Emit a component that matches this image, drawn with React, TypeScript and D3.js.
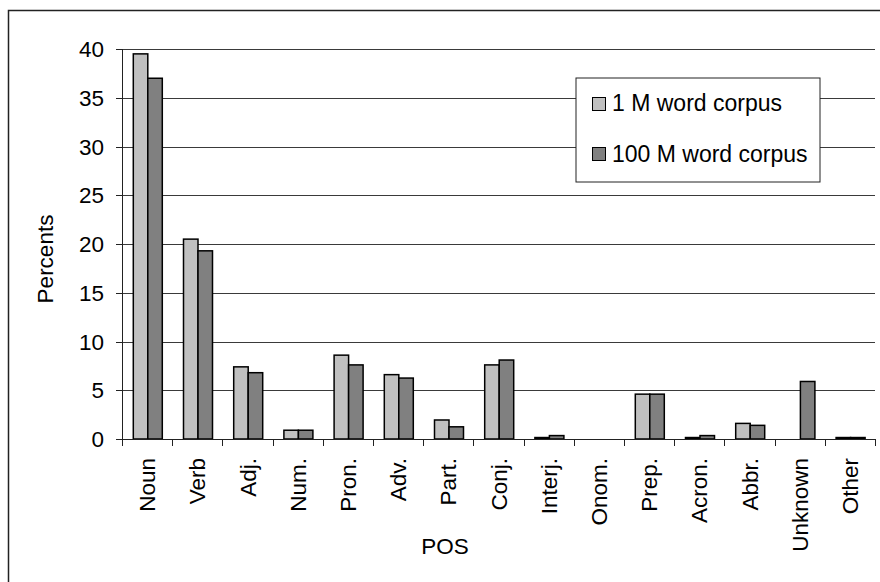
import React from "react";
import * as d3 from "d3";

const categories = ["Noun", "Verb", "Adj.", "Num.", "Pron.", "Adv.", "Part.", "Conj.", "Interj.", "Onom.", "Prep.", "Acron.", "Abbr.", "Unknown", "Other"];
const series1M = [39.5, 20.5, 7.4, 0.9, 8.6, 6.6, 1.95, 7.6, 0.15, 0, 4.6, 0.15, 1.6, 0, 0.15];
const series100M = [37.0, 19.3, 6.8, 0.9, 7.6, 6.25, 1.25, 8.1, 0.35, 0, 4.6, 0.35, 1.4, 5.9, 0.15];
const seriesNames = ["1 M word corpus", "100 M word corpus"];
const seriesColors = ["#C0C0C0", "#808080"];
const yTicks = [0, 5, 10, 15, 20, 25, 30, 35, 40];

const FONT = "'Liberation Sans', Arial, sans-serif";

export default function App() {
  const W = 880, H = 582;
  const left = 122, right = 875, top = 49, bottom = 439;
  const x = d3.scaleBand<string>().domain(categories).range([left, right]).paddingInner(0).paddingOuter(0);
  const y = d3.scaleLinear().domain([0, 40]).range([bottom, top]);
  const bw = x.bandwidth();
  const barW = 14.5;
  const data = [series1M, series100M];
  const fs = 22.5;
  const fsLeg = 23;

  return (
    <svg width={W} height={H} style={{ position: "absolute", left: 0, top: 0, background: "#fff" }} fontFamily={FONT}>
      <rect x={0} y={0} width={W} height={H} fill="#fff" />
      {/* chart border */}
      <rect x={8.5} y={10.5} width={W + 20} height={H + 20} fill="none" stroke="#222" strokeWidth={1.5} />
      {/* gridlines */}
      {yTicks.map((t) => (
        <line key={"g" + t} x1={left} x2={right} y1={Math.round(y(t)) + 0.5} y2={Math.round(y(t)) + 0.5} stroke="#3a3a3a" strokeWidth={1} />
      ))}
      {/* bars */}
      {categories.map((c, i) => {
        const cx = (x(c) as number) + bw / 2 + 0.7;
        return data.map((s, k) => {
          const v = s[i];
          if (v <= 0) return null;
          const x0 = cx - barW + k * barW;
          return (
            <rect key={c + k} x={x0} y={y(v)} width={barW} height={y(0) - y(v)} fill={seriesColors[k]} stroke="#000" strokeWidth={1.5} />
          );
        });
      })}
      {/* axes */}
      <line x1={left + 0.5} x2={left + 0.5} y1={top} y2={bottom} stroke="#222" strokeWidth={1} />
      <line x1={left} x2={right} y1={bottom + 0.5} y2={bottom + 0.5} stroke="#222" strokeWidth={1.2} />
      {yTicks.map((t) => (
        <g key={"yt" + t}>
          <line x1={left - 6} x2={left} y1={Math.round(y(t)) + 0.5} y2={Math.round(y(t)) + 0.5} stroke="#222" />
          <text x={104} y={y(t)} dy="0.36em" textAnchor="end" fontSize={fs} fill="#000">{t}</text>
        </g>
      ))}
      {d3.range(categories.length + 1).map((i) => {
        const xx = Math.round(left + i * bw) + 0.5;
        return <line key={"xt" + i} x1={xx} x2={xx} y1={bottom} y2={bottom + 7} stroke="#222" />;
      })}
      {categories.map((c) => {
        const cx = (x(c) as number) + bw / 2;
        return (
          <text key={"xl" + c} transform={`translate(${cx},458) rotate(-90)`} dy="0.36em" textAnchor="end" fontSize={fs} fill="#000">{c}</text>
        );
      })}
      {/* axis titles */}
      <text x={445} y={554} textAnchor="middle" fontSize={fs}>POS</text>
      <text transform="translate(53,259) rotate(-90)" textAnchor="middle" fontSize={fs}>Percents</text>
      {/* legend */}
      <rect x={576} y={78} width={244} height={104} fill="#fff" stroke="#222" strokeWidth={1} />
      {seriesNames.map((n, k) => (
        <g key={"lg" + k}>
          <rect x={592.5} y={97.5 + k * 50} width={13} height={13} fill={seriesColors[k]} stroke="#000" strokeWidth={1} />
          <text x={612} y={111 + k * 50.5} fontSize={fsLeg} fill="#000">{n}</text>
        </g>
      ))}
    </svg>
  );
}
